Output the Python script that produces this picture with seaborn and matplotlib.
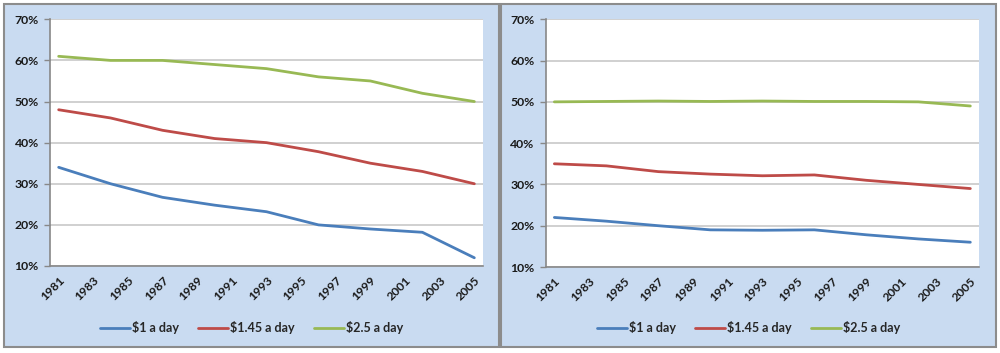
import numpy as np
import pandas as pd
import seaborn as sns
import matplotlib.pyplot as plt
from matplotlib.patches import Rectangle
from matplotlib.ticker import FixedLocator, PercentFormatter

# benchmark survey years
years = [1981, 1984, 1987, 1990, 1993, 1996, 1999, 2002, 2005]
series_names = ['$1 a day', '$1.45 a day', '$2.5 a day']

# left panel (% of population)
left_1 = [34, 30, 26.7, 24.8, 23.2, 20, 19, 18.2, 12]
left_145 = [48, 46, 43, 41, 40, 37.8, 35, 33, 30]
left_25 = [61, 60, 60, 59, 58, 56, 55, 52, 50]

# right panel (% of population)
right_1 = [22, 21.1, 20, 19, 18.9, 19, 17.8, 16.8, 16]
right_145 = [35, 34.5, 33.1, 32.5, 32.1, 32.3, 31, 30, 29]
right_25 = [50, 50.1, 50.2, 50.1, 50.2, 50.1, 50.1, 50, 49]

label_years = list(range(1981, 2006, 2))
colors = ['#4A7EBB', '#BE4B48', '#98B954']


def make_df(a, b, c):
    rows = []
    for name, vals in zip(series_names, [a, b, c]):
        for y, v in zip(years, vals):
            rows.append({'year': y, 'pct': v, 'series': name})
    return pd.DataFrame(rows)


sns.set_style('white')
plt.rcParams['font.family'] = ['Lato', 'DejaVu Sans']

fig = plt.figure(figsize=(10, 3.53), dpi=100)
W, H = 1000, 353

# panel backgrounds (pixel boxes -> figure fraction)
for x0, x1 in [(4, 499), (501, 996)]:
    fig.patches.append(Rectangle((x0 / W, 1 - 347 / H), (x1 - x0) / W, (347 - 4) / H,
                                 transform=fig.transFigure, facecolor='#C9DBF1',
                                 edgecolor='#8C8C8C', lw=1.5, zorder=-10))

boxes = [(50, 483, 19.3, 266), (545.7, 979, 19.3, 267)]
data = [(left_1, left_145, left_25), (right_1, right_145, right_25)]
legend_cx = [251.5, 748.5]

for (px0, px1, py0, py1), vals, lcx in zip(boxes, data, legend_cx):
    ax = fig.add_axes([px0 / W, 1 - py1 / H, (px1 - px0) / W, (py1 - py0) / H])
    ax.set_zorder(1)
    ax.set_facecolor('white')
    df = make_df(*vals)
    sns.lineplot(data=df, x='year', y='pct', hue='series', palette=colors,
                 linewidth=2.0, ax=ax, legend=True)
    ax.set_xlim(1980.5, 2005.5)
    ax.set_ylim(10, 70)
    ax.set_xlabel('')
    ax.set_ylabel('')
    ax.yaxis.set_major_locator(FixedLocator(range(10, 71, 10)))
    ax.yaxis.set_major_formatter(PercentFormatter(decimals=0))
    ax.grid(axis='y', color='#C8C8C8', lw=1.2)
    ax.set_axisbelow(True)
    # labels at category centres, tick marks at category edges
    ax.set_xticks(label_years)
    ax.set_xticklabels([str(y) for y in label_years], rotation=45, ha='right',
                       rotation_mode='anchor', fontsize=8.8, fontweight='bold', color='#1a1a1a')
    ax.set_xticks([y - 0.5 for y in label_years], minor=True)
    ax.tick_params(axis='x', which='major', length=0, pad=6)
    ax.tick_params(axis='x', which='minor', length=7, direction='inout', color='#888888', width=1)
    ax.tick_params(axis='y', length=4, direction='out', color='#888888', width=1, pad=4,
                   left=True)
    for lab in ax.get_yticklabels():
        lab.set_fontsize(8.8)
        lab.set_fontweight('bold')
        lab.set_color('#1a1a1a')
    for s in ['top', 'right']:
        ax.spines[s].set_visible(False)
    for s in ['left', 'bottom']:
        ax.spines[s].set_color('#888888')
        ax.spines[s].set_linewidth(1.2)
    ax.legend(loc='center', bbox_to_anchor=((lcx - px0) / (px1 - px0), (py1 - 328) / (py1 - py0)),
              ncol=3, frameon=False, handlelength=2.4, handletextpad=0.2, columnspacing=1.5,
              prop={'size': 9, 'weight': 'bold'})

fig.savefig('out.png', dpi=100, facecolor='white')
